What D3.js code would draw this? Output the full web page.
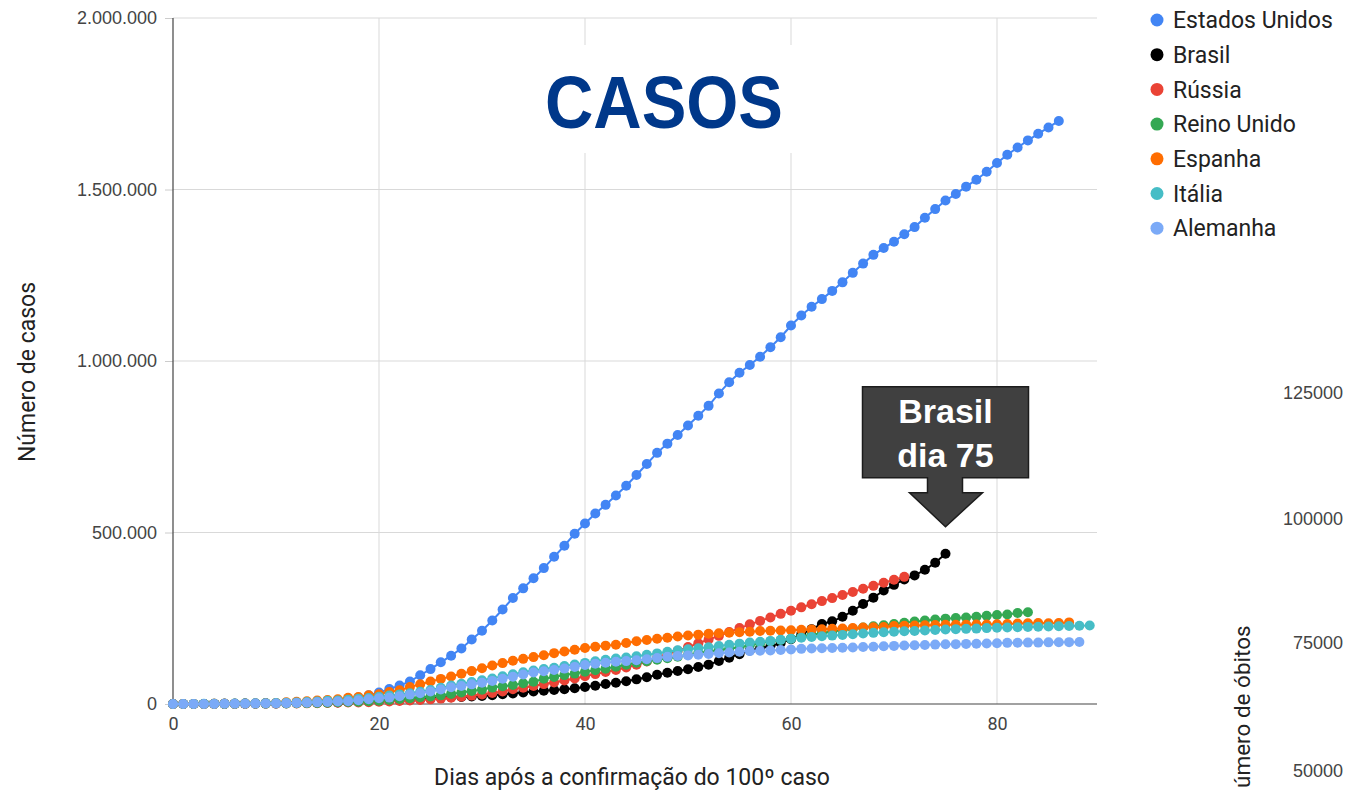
<!DOCTYPE html>
<html><head><meta charset="utf-8">
<script src="https://cdn.jsdelivr.net/npm/d3@7"></script>
<style>body{margin:0;background:#fff;overflow:hidden} svg{display:block}</style>
</head><body><svg id="c" width="1345" height="792"></svg>
<script>
// values in thousands of cases, index = days since 100th case
const seriesNames = ["Estados Unidos","Brasil","Rússia","Reino Unido","Espanha","Itália","Alemanha"];
const seriesColors = ["#4285F4","#000000","#EA4335","#34A853","#FF6D01","#46BDC6","#7BAAF7"];
const usa = [0.1,0.12,0.16,0.22,0.3,0.4,0.5,0.7,1.0,1.3,1.7,2.2,2.7,3.5,4.6,6.4,7.8,13.7,19.1,25.5,33.3,43.8,53.7,65.8,83.8,101.7,121.5,140.9,161.8,188.2,213.4,243.6,275.6,308.9,337.1,366.7,396.2,429.1,461.4,496.5,526.4,555.3,580.6,607.7,636.4,667.8,699.7,732.2,759.1,784.3,811.8,840.4,869.2,905.4,938.2,965.8,988.5,1012.6,1039.9,1069.4,1103.5,1132.5,1158.0,1180.4,1204.4,1229.3,1257.0,1283.9,1309.5,1329.3,1347.9,1369.4,1390.4,1417.8,1442.8,1467.8,1486.8,1508.3,1528.6,1551.9,1577.1,1601.4,1622.6,1643.2,1662.3,1680.9,1699.9];
const brasil = [0.121,0.2,0.234,0.346,0.529,0.64,0.97,1.178,1.546,1.924,2.247,2.554,2.985,3.417,3.904,4.256,4.579,5.717,6.836,8.044,9.056,10.36,11.13,12.161,14.034,16.17,18.092,19.638,20.727,22.169,23.43,25.262,28.32,30.425,33.682,36.599,38.654,40.581,43.079,45.757,49.492,52.995,58.509,61.888,66.501,71.886,78.162,85.38,91.299,96.396,101.147,107.78,114.715,125.218,135.106,145.328,155.939,162.699,168.331,177.589,188.974,202.918,218.223,233.142,241.08,254.22,271.628,291.579,310.087,330.89,347.398,363.211,374.898,391.222,411.821,438.238];
const russia = [0.114,0.147,0.199,0.253,0.306,0.367,0.438,0.495,0.658,0.84,1.036,1.264,1.534,1.836,2.337,2.777,3.548,4.149,4.731,5.389,6.343,7.497,8.672,10.131,11.917,13.584,15.77,18.328,21.102,24.49,27.938,32.008,36.793,42.853,47.121,52.763,57.999,62.773,68.622,74.588,80.949,87.147,93.558,99.399,106.498,114.431,124.054,134.686,145.268,155.37,165.929,177.16,187.859,198.676,209.688,221.344,232.243,242.271,252.245,262.843,272.043,281.752,290.678,299.941,308.705,317.554,326.448,335.882,344.481,353.427,362.342,370.68];
const uk = [0.115,0.163,0.206,0.273,0.321,0.373,0.456,0.59,0.798,1.14,1.372,1.543,1.95,2.626,3.269,3.983,5.018,5.683,6.65,8.077,9.529,11.658,14.543,17.089,19.522,22.141,25.15,29.474,33.718,38.168,41.903,47.806,51.608,55.242,60.733,65.077,73.758,78.991,84.279,88.621,93.873,98.476,103.093,108.692,114.217,120.067,124.743,129.044,133.495,138.078,143.464,148.377,152.84,157.149,161.145,165.221,171.253,177.454,182.26,186.599,190.584,194.99,201.101,206.715,211.364,215.26,219.183,223.06,226.463,229.705,233.151,236.711,240.161,243.303,246.406,248.818,250.908,252.246,254.195,257.154,259.559,261.184,265.227,267.24];
const spain = [0.12,0.165,0.222,0.259,0.4,0.5,0.673,1.073,1.695,2.277,3.146,5.232,6.391,7.798,9.942,11.748,13.91,17.963,20.41,25.374,28.603,35.136,39.885,49.515,57.786,65.719,73.235,80.11,87.956,95.923,104.118,112.065,119.199,126.168,131.646,136.675,141.942,148.22,153.222,158.273,163.027,166.831,170.099,172.541,177.644,182.8,186.5,190.0,193.3,196.6,199.5,202.2,204.6,206.5,207.6,209.5,210.8,212.9,213.4,214.2,215.2,216.6,217.5,218.0,219.3,220.3,221.4,222.9,223.6,224.4,227.4,228.0,228.7,229.5,230.2,230.7,230.7,231.4,231.6,232.0,232.6,233.0,234.8,235.3,235.8,235.4,236.3,237.9];
const italy = [0.155,0.229,0.322,0.453,0.655,0.888,1.128,1.694,2.036,2.502,3.089,3.858,4.636,5.883,7.375,9.172,10.149,12.462,15.113,17.66,21.157,24.747,27.98,31.506,35.713,41.035,47.021,53.578,59.138,63.927,69.176,74.386,80.589,86.498,92.472,97.689,101.739,105.792,110.574,115.242,119.827,124.632,128.948,132.547,135.586,139.422,143.626,147.577,152.271,156.363,159.516,162.488,165.155,168.941,172.434,175.925,178.972,181.228,183.957,187.327,189.973,192.994,195.351,197.675,199.414,201.505,203.591,205.463,207.428,209.328,210.717,211.938,213.013,214.457,215.858,217.185,218.268,219.07,219.814,221.216,222.104,223.096,223.885,224.76,225.435,225.886,226.699,227.364,228.006,228.658];
const germany = [0.117,0.15,0.188,0.24,0.349,0.534,0.684,0.847,1.112,1.296,1.567,2.369,3.062,3.795,4.838,6.012,7.156,8.198,10.999,13.957,16.662,18.61,22.672,27.436,31.554,36.508,42.288,48.582,52.547,57.298,61.913,67.366,73.522,79.696,85.778,91.714,95.391,99.225,103.228,108.202,113.525,117.658,120.479,123.016,125.098,127.584,130.45,133.83,137.439,139.897,141.672,143.457,145.694,148.046,150.383,152.438,154.175,155.193,156.337,157.641,159.119,160.758,161.703,162.496,163.175,163.86,164.967,166.152,167.007,168.162,169.43,170.588,171.324,172.239,173.152,174.098,174.478,175.233,175.752,176.369,177.289,178.281,178.57,179.002,179.021,179.71,179.986,180.328,180.6];
const xTicks = [0,20,40,60,80];
const yTicks = [0,500,1000,1500,2000];
const yTickLabels = ["0","500.000","1.000.000","1.500.000","2.000.000"];
const rightTicks = ["125000","100000","75000","50000"];
const title = "CASOS";
const xTitle = "Dias após a confirmação do 100º caso";
const yTitle = "Número de casos";
const rightTitle = "úmero de óbitos";
const callout = ["Brasil","dia 75"];
const calloutDay = 75;

const allSeries = [usa,brasil,russia,uk,spain,italy,germany];
const svg = d3.select("#c");
const L=173, R=1097, T=18, B=704;
const x = d3.scaleLinear().domain([0,90]).range([L,1100]);
const y = d3.scaleLinear().domain([0,2000]).range([B,T]);

// gridlines
const grid = svg.append("g");
grid.selectAll("line.v").data(xTicks.slice(1)).join("line")
  .attr("x1",d=>x(d)).attr("x2",d=>x(d)).attr("y1",T).attr("y2",B)
  .attr("stroke","#d9d9d9").attr("stroke-width",1);
grid.selectAll("line.h").data(yTicks.slice(1)).join("line")
  .attr("x1",L).attr("x2",R).attr("y1",d=>y(d)).attr("y2",d=>y(d))
  .attr("stroke","#d9d9d9").attr("stroke-width",1);

// title with white backing
svg.append("rect").attr("x",533).attr("y",45).attr("width",268).attr("height",108).attr("fill","#fff");
svg.append("text").attr("x",664).attr("y",128).attr("text-anchor","middle")
  .attr("font-family","'Liberation Sans',Arial,sans-serif").attr("font-weight","bold")
  .attr("font-size",75).attr("fill","#00388a")
  .attr("textLength",238).attr("lengthAdjust","spacingAndGlyphs").text(title);

// axes
const yAxis = d3.axisLeft(y).tickValues(yTicks).tickFormat((d,i)=>yTickLabels[i]).tickSize(8).tickPadding(8);
const gy = svg.append("g").attr("transform",`translate(${L},0)`).call(yAxis);
gy.select(".domain").remove();
gy.selectAll(".tick line").attr("stroke","#cccccc");
gy.selectAll(".tick text").attr("font-family","'Liberation Sans',Arial,sans-serif").attr("font-size",18).attr("fill","#444");

const xAxis = d3.axisBottom(x).tickValues(xTicks).tickSize(0).tickPadding(13);
const gx = svg.append("g").attr("transform",`translate(0,${B})`).call(xAxis);
gx.select(".domain").remove();
gx.selectAll(".tick text").attr("font-family","Roboto,sans-serif").attr("font-size",18).attr("fill","#444");

svg.append("line").attr("x1",L).attr("x2",L).attr("y1",T).attr("y2",B).attr("stroke","#444").attr("stroke-width",1.2);
svg.append("line").attr("x1",L).attr("x2",R).attr("y1",B).attr("y2",B).attr("stroke","#444").attr("stroke-width",1.2);

// series
const line = d3.line().x((d,i)=>x(i)).y(d=>y(d));
allSeries.forEach((s,k)=>{
  const g = svg.append("g");
  g.append("path").attr("d",line(s)).attr("fill","none").attr("stroke",seriesColors[k]).attr("stroke-width",2);
  g.selectAll("circle").data(s).join("circle")
    .attr("cx",(d,i)=>x(i)).attr("cy",d=>y(d)).attr("r",5).attr("fill",seriesColors[k]);
});

// callout
const tx = x(calloutDay), ty = y(brasil[calloutDay]) - 27;
const cp = d3.path();
cp.moveTo(tx-83,ty-140); cp.lineTo(tx+83,ty-140); cp.lineTo(tx+83,ty-49);
cp.lineTo(tx+17,ty-49); cp.lineTo(tx+17,ty-34); cp.lineTo(tx+37,ty-34);
cp.lineTo(tx,ty); cp.lineTo(tx-36,ty-34); cp.lineTo(tx-18,ty-34);
cp.lineTo(tx-18,ty-49); cp.lineTo(tx-83,ty-49); cp.closePath();
svg.append("path").attr("d",cp.toString()).attr("fill","#404040").attr("stroke","#1c1c1c").attr("stroke-width",1.5);
svg.selectAll("text.callout").data(callout).join("text")
  .attr("x",tx).attr("y",(d,i)=>ty-104+i*44).attr("text-anchor","middle")
  .attr("font-family","'Liberation Sans',Arial,sans-serif").attr("font-weight","bold")
  .attr("font-size",34).attr("fill","#fff").text(d=>d);

// axis titles
svg.append("text").attr("x",632).attr("y",785).attr("text-anchor","middle")
  .attr("font-family","Roboto,sans-serif").attr("font-size",23).attr("fill","#222").text(xTitle);
svg.append("text").attr("transform","translate(35,372) rotate(-90)").attr("text-anchor","middle")
  .attr("font-family","Roboto,sans-serif").attr("font-size",23).attr("fill","#222").text(yTitle);

// legend
const lg = svg.append("g");
seriesNames.forEach((n,i)=>{
  const yy = 20 + i*34.7;
  lg.append("circle").attr("cx",1157).attr("cy",yy).attr("r",6.5).attr("fill",seriesColors[i]);
  lg.append("text").attr("x",1173).attr("y",yy).attr("dy","0.36em")
    .attr("font-family","Roboto,sans-serif").attr("font-size",23).attr("fill","#222").text(n);
});

// fragment of neighbouring chart on the right
const ry = [393,519,643,771];
svg.selectAll("text.rt").data(rightTicks).join("text")
  .attr("x",1343).attr("y",(d,i)=>ry[i]).attr("dy","0.35em").attr("text-anchor","end")
  .attr("font-family","'Liberation Sans',Arial,sans-serif").attr("font-size",18).attr("fill","#444").text(d=>d);
svg.append("text").attr("transform","translate(1250,788) rotate(-90)").attr("text-anchor","start")
  .attr("font-family","Roboto,sans-serif").attr("font-size",22.5).attr("fill","#222").text(rightTitle);
</script></body></html>
